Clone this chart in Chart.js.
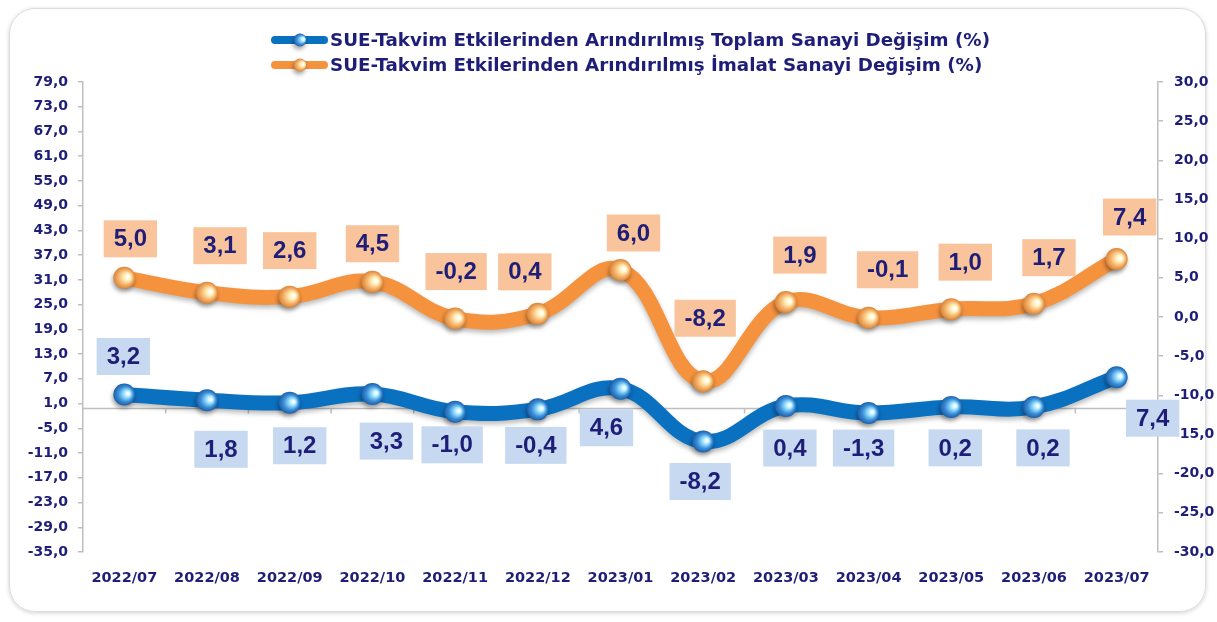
<!DOCTYPE html>
<html>
<head>
<meta charset="utf-8">
<script src="https://cdn.jsdelivr.net/npm/chart.js@4.4.0/dist/chart.umd.min.js"></script>
<style>
  html, body { margin: 0; padding: 0; background: #fff; }
  #wrap { position: relative; width: 1217px; height: 622px; overflow: hidden; }
  #frame {
    position: absolute; left: 9px; top: 8px; width: 1195px; height: 602px;
    border: 1px solid #dcdcdc; border-radius: 26px;
    box-shadow: 0 1px 4px rgba(0, 0, 0, 0.18);
  }
  canvas { position: absolute; left: 0; top: 0; }
</style>
</head>
<body>
<div id="wrap">
  <div id="frame"></div>
  <canvas id="myCanvas" width="1217" height="622"></canvas>
</div>
<script>
// categories and series
const months = ["2022/07", "2022/08", "2022/09", "2022/10", "2022/11", "2022/12", "2023/01",
  "2023/02", "2023/03", "2023/04", "2023/05", "2023/06", "2023/07"];
const toplam = [3.2, 1.8, 1.2, 3.3, -1.0, -0.4, 4.6, -8.2, 0.4, -1.3, 0.2, 0.2, 7.4];
const imalat = [5.0, 3.1, 2.6, 4.5, -0.2, 0.4, 6.0, -8.2, 1.9, -0.1, 1.0, 1.7, 7.4];
const seriesNames = [
  "SUE-Takvim Etkilerinden Arındırılmış Toplam Sanayi Değişim (%)",
  "SUE-Takvim Etkilerinden Arındırılmış İmalat Sanayi Değişim (%)"
];

// axis ranges
const leftMin = -35, leftMax = 79, leftStep = 6;
const rightMin = -30, rightMax = 30, rightStep = 5;

// label offsets from each point (px), hand placed like in the original
const toplamLabelDx = [-1, 14, 10, 14, -3, -2, -14, -3, 4, -5, 4, 9, 36];
const toplamLabelDy = [-38, 49, 43, 47, 33, 36, 39, 40, 42, 35, 41, 41, 41];
const imalatLabelDx = [6, 13, 0, 0, 1, -13, 13, 2, 14, 19, 14, 15, 13];
const imalatLabelDy = [-39, -47, -46, -38, -47, -42, -37, -63, -47, -48, -47, -46, -42];

const NAVY = "#1e1e78";
const AXIS_GRAY = "#bfbfbf";
const BLUE = "#0a70c0";
const ORANGE = "#f5923e";

const fmt = (v) => v.toFixed(1).replace(".", ",");

function ball(ctx, x, y, r, dark, mid, light) {
  ctx.save();
  ctx.shadowColor = "rgba(0,0,0,0.35)";
  ctx.shadowBlur = 4;
  ctx.shadowOffsetX = -1;
  ctx.shadowOffsetY = 3;
  const g = ctx.createRadialGradient(x + 4, y - 1, 1, x, y, r);
  g.addColorStop(0, "#ffffff");
  g.addColorStop(0.25, light);
  g.addColorStop(0.65, mid);
  g.addColorStop(1, dark);
  ctx.fillStyle = g;
  ctx.beginPath();
  ctx.arc(x, y, r, 0, Math.PI * 2);
  ctx.fill();
  ctx.restore();
}

const ballColors = [
  { dark: "#1c5ea8", mid: "#3a8fd8", light: "#9ee4ff" },
  { dark: "#d98434", mid: "#f4b06a", light: "#fff0b8" }
];

const lineShadow = {
  id: "lineShadow",
  beforeDatasetDraw(chart) {
    const ctx = chart.ctx;
    ctx.save();
    ctx.shadowColor = "rgba(0,0,0,0.28)";
    ctx.shadowBlur = 5;
    ctx.shadowOffsetY = 3;
  },
  afterDatasetDraw(chart) {
    chart.ctx.restore();
  }
};

const zeroLine = {
  id: "zeroLine",
  beforeDatasetsDraw(chart) {
    const { ctx, chartArea, scales } = chart;
    const y = Math.round(scales.y.getPixelForValue(0)) + 0.5;
    ctx.save();
    ctx.strokeStyle = AXIS_GRAY;
    ctx.lineWidth = 1.5;
    ctx.beginPath();
    ctx.moveTo(chartArea.left, y);
    ctx.lineTo(chartArea.right, y);
    const x = scales.x;
    for (let i = 1; i < months.length; i++) {
      const bx = (x.getPixelForValue(i - 1) + x.getPixelForValue(i)) / 2;
      ctx.moveTo(bx, y);
      ctx.lineTo(bx, y + 5);
    }
    ctx.stroke();
    ctx.restore();
  }
};

const ballsAndLabels = {
  id: "ballsAndLabels",
  afterDatasetsDraw(chart) {
    const ctx = chart.ctx;
    chart.data.datasets.forEach((ds, di) => {
      const meta = chart.getDatasetMeta(di);
      const c = ballColors[di];
      meta.data.forEach((pt) => ball(ctx, pt.x, pt.y, 11, c.dark, c.mid, c.light));
    });
    ctx.save();
    ctx.font = "bold 24px 'Liberation Sans', Arial, sans-serif";
    ctx.textAlign = "center";
    ctx.textBaseline = "middle";
    chart.data.datasets.forEach((ds, di) => {
      const meta = chart.getDatasetMeta(di);
      meta.data.forEach((pt, i) => {
        const txt = fmt(ds.data[i]);
        const cx = pt.x + ds.labelDx[i];
        const cy = pt.y + ds.labelDy[i];
        const w = ctx.measureText(txt).width + 20;
        const h = 37;
        ctx.fillStyle = ds.labelBg;
        ctx.fillRect(cx - w / 2, cy - h / 2, w, h);
        ctx.fillStyle = NAVY;
        ctx.fillText(txt, cx, cy + 1);
      });
    });
    ctx.restore();
  }
};

const legendDraw = {
  id: "legendDraw",
  afterDraw(chart) {
    const ctx = chart.ctx;
    ctx.save();
    chart.data.datasets.forEach((ds, di) => {
      const y = 40 + di * 25;
      ctx.strokeStyle = ds.borderColor;
      ctx.lineWidth = 8;
      ctx.lineCap = "round";
      ctx.beginPath();
      ctx.moveTo(275, y);
      ctx.lineTo(324, y);
      ctx.stroke();
      const c = ballColors[di];
      ball(ctx, 300, y, 6.5, c.dark, c.mid, c.light);
      ctx.fillStyle = NAVY;
      ctx.font = "bold 18.3px 'DejaVu Sans', sans-serif";
      ctx.textAlign = "left";
      ctx.textBaseline = "middle";
      ctx.fillText(ds.label, 330, y + 1);
    });
    ctx.restore();
  }
};

const tickFont = { family: "'DejaVu Sans', sans-serif", size: 14, weight: "bold" };

new Chart(document.getElementById("myCanvas").getContext("2d"), {
  type: "line",
  data: {
    labels: months,
    datasets: [
      {
        label: seriesNames[0],
        data: toplam,
        yAxisID: "y",
        borderColor: BLUE,
        borderWidth: 15,
        tension: 0.4,
        borderCapStyle: "round",
        borderJoinStyle: "round",
        pointRadius: 0,
        labelDx: toplamLabelDx,
        labelDy: toplamLabelDy,
        labelBg: "#c6d9f1"
      },
      {
        label: seriesNames[1],
        data: imalat,
        yAxisID: "y2",
        borderColor: ORANGE,
        borderWidth: 15,
        tension: 0.4,
        borderCapStyle: "round",
        borderJoinStyle: "round",
        pointRadius: 0,
        labelDx: imalatLabelDx,
        labelDy: imalatLabelDy,
        labelBg: "#f9c49b"
      }
    ]
  },
  options: {
    responsive: false,
    animation: false,
    devicePixelRatio: 1,
    layout: { padding: { top: 82, bottom: 30, left: 0, right: 0 } },
    plugins: { legend: { display: false }, tooltip: { enabled: false } },
    scales: {
      x: {
        offset: true,
        grid: { display: false, drawTicks: false },
        border: { display: false },
        ticks: { color: NAVY, font: { ...tickFont, size: 14.5 }, padding: 18, maxRotation: 0, autoSkip: false },
        afterFit: (s) => { s.height = 40; }
      },
      y: {
        position: "left",
        min: leftMin,
        max: leftMax,
        ticks: { stepSize: leftStep, color: NAVY, font: tickFont, padding: 10, callback: (v) => fmt(v) },
        grid: { drawOnChartArea: false, drawTicks: true, tickLength: 5, color: AXIS_GRAY, lineWidth: 1.5 },
        border: { display: true, color: AXIS_GRAY, width: 1.5 },
        afterFit: (s) => { s.width = 83; }
      },
      y2: {
        position: "right",
        min: rightMin,
        max: rightMax,
        ticks: { stepSize: rightStep, color: NAVY, font: tickFont, padding: 11, callback: (v) => fmt(v) },
        grid: { drawOnChartArea: false, drawTicks: true, tickLength: 5, color: AXIS_GRAY, lineWidth: 1.5 },
        border: { display: true, color: AXIS_GRAY, width: 1.5 },
        afterFit: (s) => { s.width = 59; }
      }
    }
  },
  plugins: [zeroLine, lineShadow, ballsAndLabels, legendDraw]
});
</script>
</body>
</html>
